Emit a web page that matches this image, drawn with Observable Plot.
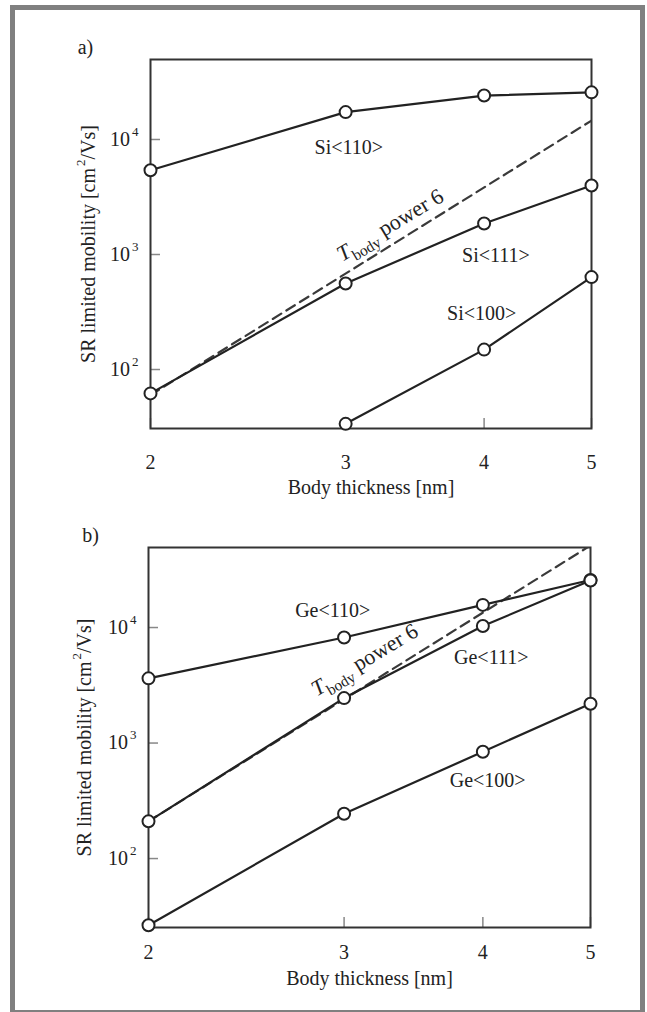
<!DOCTYPE html>
<html><head><meta charset="utf-8">
<script src="https://cdn.jsdelivr.net/npm/d3@7"></script>
<script src="https://cdn.jsdelivr.net/npm/@observablehq/plot@0.6"></script>
<style>
html,body{margin:0;padding:0;background:#fff;}
#page{position:relative;width:647px;height:1012px;overflow:hidden;font-family:"Liberation Serif","Times New Roman",serif;}
#border{position:absolute;left:10px;top:5px;width:635px;height:1010px;box-sizing:border-box;border:5px solid #808080;}
.panel{position:absolute;left:0;}
</style></head><body>
<div id="page"><div id="border"></div><div id="pa" class="panel" style="top:0px"></div><div id="pb" class="panel" style="top:510px"></div></div>
<script>
// ---- data ----
const thicknessTicks = [2, 3, 4, 5];
const mobilityTicks = [100, 1000, 10000];
const xLabel = "Body thickness [nm]";
const yLabel = "SR limited mobility [cm^{2}/Vs]";
const powerLabel = "~{T}_{body} power 6";

// Panel a: silicon
const siX = [2, 3, 4, 5];
const si110 = [5400, 17300, 24100, 25700];
const si111 = [62, 560, 1860, 3980];
const si100X = [3, 4, 5];
const si100 = [33.7, 149, 636];
const siPowX = [2, 5];
const siPow6 = [60, 14600];
const siNames = ["Si<110>", "Si<111>", "Si<100>"];
const siNameX = [3.02, 4.10, 3.98];
const siNameY = [8500, 980, 305];
const siPowLabelAt = [3.29, 1800];

// Panel b: germanium
const geX = [2, 3, 4, 5];
const ge110 = [3630, 8190, 15700, 25800];
const ge111 = [210, 2450, 10300, 25500];
const ge100 = [26.5, 244, 841, 2190];
const gePowX = [2, 5];
const gePow6 = [210, 51300];
const geNames = ["Ge<110>", "Ge<111>", "Ge<100>"];
const geNameX = [2.93, 4.07, 4.04];
const geNameY = [14000, 5530, 473];
const gePowLabelAt = [3.13, 5250];

// ---- helpers ----
const rows = (xs, ys) => xs.map((x, i) => ({x, y: ys[i]}));
const INK = "#222";

function richify(root) {
  const NS = "http://www.w3.org/2000/svg";
  root.querySelectorAll("text").forEach(t => {
    const s = t.textContent;
    if (!/[\^_~]\{/.test(s)) return;
    const fs = parseFloat(getComputedStyle(t).fontSize) || 20;
    while (t.firstChild) t.removeChild(t.firstChild);
    const re = /([\^_~])\{([^}]*)\}/g;
    let last = 0, m, shift = 0;
    const add = (txt, attrs) => {
      const sp = document.createElementNS(NS, "tspan");
      for (const k in attrs) sp.setAttribute(k, attrs[k]);
      sp.textContent = txt;
      t.appendChild(sp);
    };
    while ((m = re.exec(s))) {
      if (m.index > last) { add(s.slice(last, m.index), shift ? {dy: -shift} : {}); shift = 0; }
      if (m[1] === "^") { const d = -fs * 0.5; add(m[2], {dy: d - shift, dx: 2, "font-size": fs * 0.65}); shift = d; }
      else if (m[1] === "_") { const d = fs * 0.28; add(m[2], {dy: d - shift, "font-size": fs * 0.7}); shift = d; }
      else { add(m[2], Object.assign({"font-style": "italic"}, shift ? {dy: -shift} : {})); shift = 0; }
      last = re.lastIndex;
    }
    if (last < s.length) add(s.slice(last), shift ? {dy: -shift} : {});
  });
}

function panel(el, o) {
  const lineOpts = {x: "x", y: "y", stroke: INK, strokeWidth: 2.2};
  const dotOpts = {x: "x", y: "y", r: 6, fill: "white", stroke: INK, strokeWidth: 2};
  const chart = Plot.plot({
    width: 647, height: o.height,
    marginTop: o.mt, marginBottom: o.mb, marginLeft: o.ml, marginRight: o.mr,
    style: {fontFamily: "'Liberation Serif','Times New Roman',serif", fontSize: "20px", color: INK, background: "transparent", overflow: "visible"},
    x: {type: "log", domain: [2, 5]},
    y: {type: "log", domain: o.yDomain},
    marks: [
      Plot.axisX({ticks: thicknessTicks, tickFormat: d => String(d), tickSize: -10, tickPadding: o.xPad, stroke: "#888", strokeWidth: 1.5, label: null, fill: INK}),
      Plot.axisY({ticks: mobilityTicks, tickFormat: d => "10^{" + Math.round(Math.log10(d)) + "}", tickSize: -10, tickPadding: 22, stroke: "#888", strokeWidth: 1.5, label: null, fill: INK}),
      Plot.frame({stroke: "#333", strokeWidth: 2}),
      Plot.line(rows(o.powX, o.pow), {...lineOpts, stroke: "#3a3a3a", strokeDasharray: "10,6", clip: true}),
      ...o.series.map(s => Plot.line(rows(s[0], s[1]), lineOpts)),
      ...o.series.map(s => Plot.dot(rows(s[0], s[1]), dotOpts)),
      Plot.text(o.names.map((n, i) => ({n, x: o.nameX[i], y: o.nameY[i]})), {x: "x", y: "y", text: "n", fill: INK}),
      Plot.text([powerLabel], {x: () => o.powLabel[0], y: () => o.powLabel[1], rotate: -31, fontSize: 22, fill: INK}),
      Plot.text([o.tag], {frameAnchor: "top-left", dx: o.tagDx, dy: -12, textAnchor: "middle", lineAnchor: "middle", fill: INK}),
      Plot.text([xLabel], {frameAnchor: "bottom", dy: o.titleDy, textAnchor: "middle", lineAnchor: "middle", fill: INK}),
      Plot.text([yLabel], {frameAnchor: "left", dx: o.yLabDx, rotate: -90, textAnchor: "middle", lineAnchor: "middle", fill: INK})
    ]
  });
  el.appendChild(chart);
  richify(chart);
}

panel(document.getElementById("pa"), {
  height: 510, mt: 59, mb: 82, ml: 150, mr: 56,
  yDomain: [30.7, 49600], xPad: 36, titleDy: 59, yLabDx: -62, tagDx: -65, tag: "a)",
  series: [[siX, si110], [siX, si111], [si100X, si100]],
  powX: siPowX, pow: siPow6,
  names: siNames, nameX: siNameX, nameY: siNameY, powLabel: siPowLabelAt
});
panel(document.getElementById("pb"), {
  height: 502, mt: 37, mb: 85, ml: 148, mr: 57,
  yDomain: [25.3, 49300], xPad: 27, titleDy: 51, yLabDx: -64, tagDx: -58, tag: "b)",
  series: [[geX, ge110], [geX, ge111], [geX, ge100]],
  powX: gePowX, pow: gePow6,
  names: geNames, nameX: geNameX, nameY: geNameY, powLabel: gePowLabelAt
});
</script>
</body></html>
